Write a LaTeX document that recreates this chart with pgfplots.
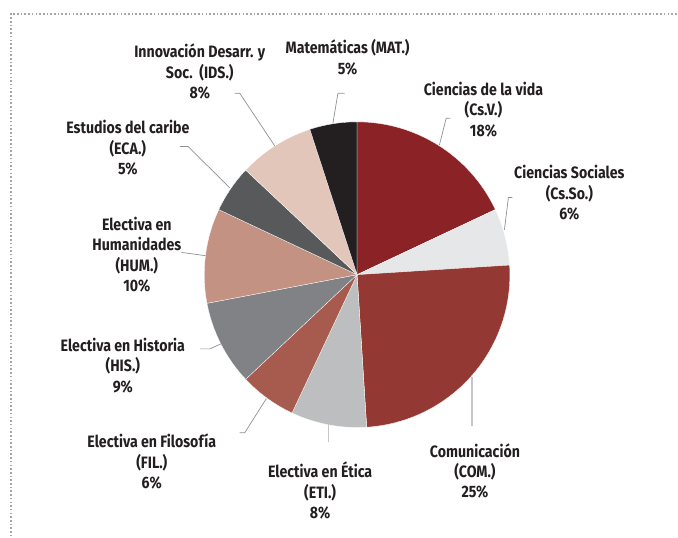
\documentclass[border=0pt]{standalone}
\usepackage{pgfplots}
\pgfplotsset{compat=1.18}
\usepackage{fontspec}
\setmainfont{Fira Sans}[FakeStretch=0.86]
\definecolor{txt}{HTML}{231F20}
\definecolor{lead}{HTML}{8F9194}
\definecolor{cCV}{HTML}{8B2326}
\definecolor{cCSo}{HTML}{E6E7E8}
\definecolor{cCOM}{HTML}{943834}
\definecolor{cETI}{HTML}{BCBEC0}
\definecolor{cFIL}{HTML}{A65B4E}
\definecolor{cHIS}{HTML}{808285}
\definecolor{cHUM}{HTML}{C39283}
\definecolor{cECA}{HTML}{58595B}
\definecolor{cIDS}{HTML}{E3C6BA}
\definecolor{cMAT}{HTML}{231F20}
% slice: #1 cumulative percent before, #2 percent, #3 colour
\newcommand\slice[3]{%
  \fill[#3, draw=white, line width=0.3pt] (axis cs:357.5,262) --
    (axis cs:{357.5+153*cos(90-3.6*#1)},{262+153*sin(90-3.6*#1)})
    arc[start angle={90-3.6*#1}, end angle={90-3.6*(#1+#2)}, radius=153pt] -- cycle;}
\newcommand\lab[3]{\node[align=center, text=txt, font=\fontsize{16.5}{20.5}\selectfont\bfseries] at (axis cs:#1,#2) {#3};}
\begin{document}
\begin{tikzpicture}
\begin{axis}[scale only axis, width=678pt, height=537pt,
  xmin=0, xmax=678, ymin=0, ymax=537, hide axis, clip=false]
\addplot[draw=none] coordinates {(0,0) (678,537)};
% frame
\draw[color=gray!70, line width=1.6pt, dash pattern=on 1.6pt off 2.1pt]
  (axis cs:11,0) -- (axis cs:11,523) -- (axis cs:678,523);
% slices (percent)
\slice{0}{18}{cCV}
\slice{18}{6}{cCSo}
\slice{24}{25}{cCOM}
\slice{49}{8}{cETI}
\slice{57}{6}{cFIL}
\slice{63}{9}{cHIS}
\slice{72}{10}{cHUM}
\slice{82}{5}{cECA}
\slice{87}{8}{cIDS}
\slice{95}{5}{cMAT}
% leaders
\begin{scope}[lead, line width=0.7pt]
\draw (axis cs:333.3,413.7) -- (axis cs:338.3,443.7) -- (axis cs:345,443.7);
\draw (axis cs:440,392) -- (axis cs:446.7,418.7) -- (axis cs:451,418.7);
\draw (axis cs:505,307) -- (axis cs:509,339.3) -- (axis cs:513,339.3);
\draw[gray!45, line width=1.2pt] (axis cs:472.5,160) -- (axis cs:472.5,110);
\draw[gray!45, line width=1.2pt] (axis cs:328.8,112) -- (axis cs:328.8,94);
\draw (axis cs:266.7,138) -- (axis cs:245,103.7) -- (axis cs:240,103.7);
\draw (axis cs:221.7,193) -- (axis cs:210,187.7) -- (axis cs:200,187.7);
\draw (axis cs:205.7,281) -- (axis cs:181.7,284.3);
\draw (axis cs:230,349) -- (axis cs:188.3,390.3) -- (axis cs:180,390.3);
\draw (axis cs:275,391) -- (axis cs:240,443.7) -- (axis cs:235,443.7);
\end{scope}
% labels
\lab{348}{479.5}{Matemáticas (MAT.)\\5\%}
\lab{200}{465}{Innovación Desarr. y\\Soc.\ \ (IDS.)\\8\%}
\lab{128}{389}{Estudios del caribe\\(ECA.)\\5\%}
\lab{137}{282}{Electiva en\\Humanidades\\(HUM.)\\10\%}
\lab{123}{171}{Electiva en Historia\\(HIS.)\\9\%}
\lab{152}{75}{Electiva en Filosofía\\(FIL.)\\6\%}
\lab{320.5}{45.5}{Electiva en Ética\\(ETI.)\\8\%}
\lab{475.5}{65.5}{Comunicación\\(COM.)\\25\%}
\lab{484}{427.5}{Ciencias de la vida\\(Cs.V.)\\18\%}
\lab{570}{344}{Ciencias Sociales\\(Cs.So.)\\6\%}
\end{axis}
\end{tikzpicture}
\end{document}
